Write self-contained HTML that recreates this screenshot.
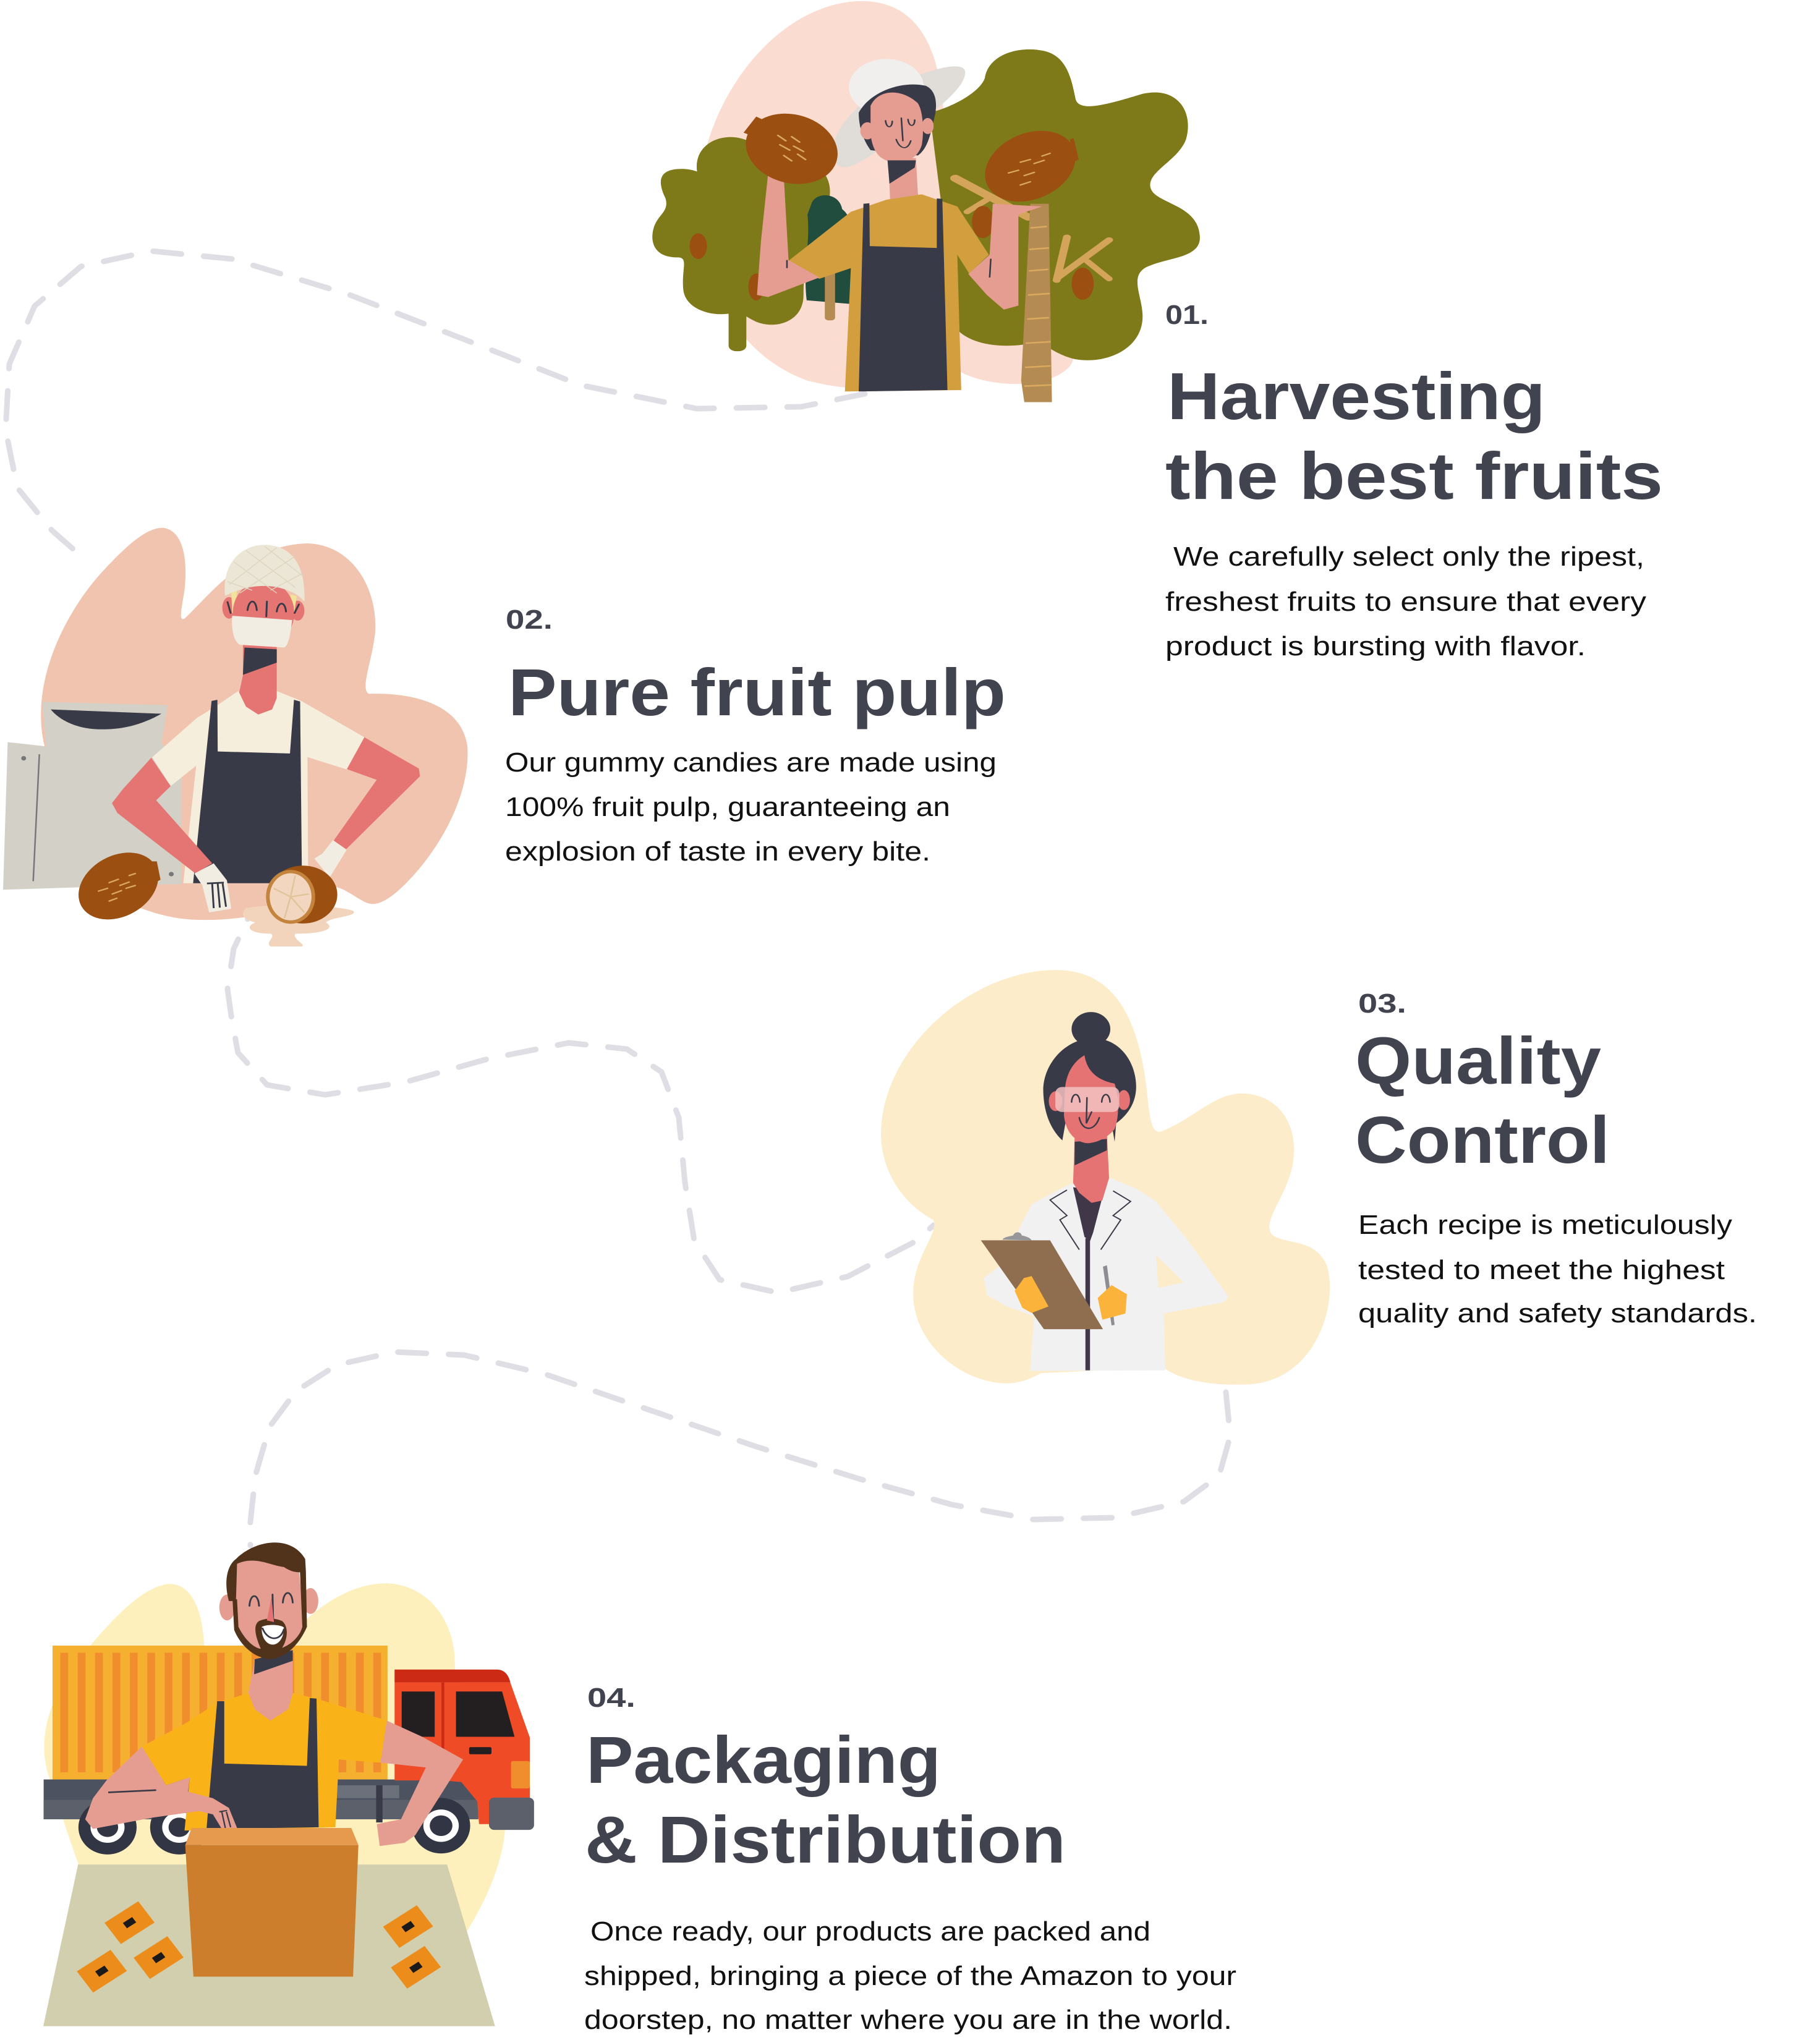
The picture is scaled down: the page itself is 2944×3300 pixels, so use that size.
<!DOCTYPE html>
<html>
<head>
<meta charset="utf-8">
<style>
  html,body{margin:0;padding:0;background:#ffffff;}
  svg{display:block;}
  .h{font-family:"Liberation Sans",Arial,sans-serif;font-weight:700;fill:#41434f;}
  .n{font-family:"Liberation Sans",Arial,sans-serif;font-weight:700;fill:#41434f;font-size:44px;}
  .b{font-family:"Liberation Sans",Arial,sans-serif;font-weight:400;fill:#111111;font-size:44px;}
</style>
</head>
<body>
<svg width="2944" height="3300" viewBox="0 0 2944 3300" xmlns="http://www.w3.org/2000/svg">
<rect width="2944" height="3300" fill="#ffffff"/>

<!-- dashed connectors -->
<g fill="none" stroke="#dedee4" stroke-width="9" stroke-linecap="round" stroke-linejoin="round" stroke-dasharray="46 36">
  <polyline points="1399,637 1296,658 1127,661 939,623 751,549 563,476 376,419 244,406 131,431 56,495 15,589 9,695 28,789 84,858 134,902"/>
  <polyline points="420,1445 398,1492 378,1535 368,1600 375,1650 385,1703 432,1755 526,1771 657,1750 789,1713 920,1687 1014,1697 1070,1734 1098,1808 1108,1913 1123,2007 1164,2070 1258,2091 1371,2065 1483,2007 1510,1982"/>
  <polyline points="1983,2252 1990,2323 1972,2387 1915,2429 1803,2455 1671,2458 1540,2434 1389,2392 1220,2339 1051,2281 882,2223 751,2192 638,2187 545,2208 479,2250 436,2308 413,2387 404,2471 405,2500"/>
</g>

<!-- ============ Illustration 1: farmer with trees ============ -->
<g transform="translate(1000,0) scale(0.6378,0.4337)">
  <path fill="#fbdcd0" d="M 480,1420 C 330,1340 210,1120 205,760 C 200,420 380,30 600,5 C 760,-10 815,180 825,420 L 840,900 C 900,1100 1000,1200 1100,1260 C 1180,1300 1170,1380 1080,1420 C 1000,1450 900,1420 860,1380 L 700,1440 C 600,1460 540,1440 480,1420 Z"/>
  <!-- left tree -->
  <path fill="#7f7a19" d="M 200,640 C 190,540 260,490 320,520 C 380,550 480,560 520,640 C 560,720 520,800 500,860 C 480,940 470,1000 470,1100 C 470,1200 400,1230 350,1200 C 320,1180 300,1150 280,1170 C 230,1180 170,1150 165,1080 C 160,1000 180,960 150,960 C 90,960 80,900 90,850 C 100,800 130,790 120,740 C 100,680 100,630 160,630 C 185,630 200,640 200,640 Z"/>
  <rect x="280" y="1130" width="45" height="180" rx="20" fill="#7f7a19"/>
  <ellipse cx="203" cy="918" rx="22" ry="48" fill="#9b4f10"/>
  <ellipse cx="350" cy="1070" rx="20" ry="50" fill="#9b4f10"/>
  <!-- small dark tree -->
  <path fill="#214d3f" d="M 490,760 C 500,715 560,715 568,780 C 585,800 592,830 582,850 L 600,1135 L 478,1120 C 468,1000 488,900 480,800 Z"/>
  <rect x="524" y="1000" width="26" height="195" rx="10" fill="#b38b53"/>
  <!-- right tree -->
  <path fill="#7f7a19" d="M 930,290 C 940,200 1020,170 1080,190 C 1140,210 1150,300 1160,370 C 1170,420 1240,390 1330,350 C 1420,320 1460,420 1440,520 C 1420,600 1340,640 1350,700 C 1360,760 1470,760 1475,880 C 1480,960 1400,960 1350,990 C 1290,1020 1330,1100 1330,1180 C 1330,1300 1240,1360 1160,1340 C 1100,1320 1080,1270 1050,1280 C 980,1300 900,1290 860,1230 C 820,1170 830,1080 840,1000 L 790,420 C 850,400 920,340 930,290 Z"/>
  <g stroke="#d3a45a" stroke-linecap="round" fill="none">
    <line x1="855" y1="665" x2="1040" y2="810" stroke-width="26"/>
    <line x1="885" y1="790" x2="935" y2="745" stroke-width="18"/>
    <line x1="1138" y1="885" x2="1112" y2="1045" stroke-width="20"/>
    <line x1="1245" y1="895" x2="1115" y2="1035" stroke-width="20"/>
    <line x1="1245" y1="1040" x2="1190" y2="975" stroke-width="18"/>
  </g>
  <polygon fill="#b38b53" points="1045,760 1092,760 1100,1500 1030,1500 1022,1420"/>
  <g stroke="#d9a95e" stroke-width="6" stroke-linecap="round">
    <line x1="1048" y1="850" x2="1085" y2="845"/><line x1="1045" y1="930" x2="1090" y2="925"/>
    <line x1="1044" y1="1010" x2="1088" y2="1005"/><line x1="1042" y1="1100" x2="1092" y2="1095"/>
    <line x1="1040" y1="1190" x2="1090" y2="1185"/><line x1="1036" y1="1280" x2="1094" y2="1275"/>
    <line x1="1034" y1="1370" x2="1094" y2="1365"/><line x1="1032" y1="1440" x2="1096" y2="1436"/>
  </g>
  <ellipse cx="925" cy="828" rx="28" ry="60" fill="#9b4f10"/>
  <ellipse cx="1178" cy="1058" rx="28" ry="60" fill="#9b4f10"/>
  <!-- farmer -->
  <path fill="#e0dcd8" d="M 560,620 C 520,560 560,420 680,330 C 780,260 880,220 880,270 C 880,330 800,420 720,500 C 640,580 590,640 560,620 Z"/>
  <ellipse cx="680" cy="325" rx="95" ry="105" fill="#f0efee"/>
  <path fill="#393a47" d="M 610,420 C 640,340 720,300 780,320 C 810,340 810,400 800,450 C 790,520 780,560 760,580 L 640,560 C 620,520 610,470 610,420 Z"/>
  <ellipse cx="632" cy="488" rx="18" ry="32" fill="#e59d91"/>
  <ellipse cx="785" cy="470" rx="15" ry="30" fill="#e59d91"/>
  <path fill="#e59d91" d="M 640,395 C 660,330 720,330 760,385 C 775,420 775,500 770,540 C 760,590 730,610 700,605 C 660,600 645,560 640,500 Z"/>
  <g stroke="#393a47" stroke-width="4" fill="none" stroke-linecap="round">
    <path d="M 678,450 C 680,480 695,480 695,452"/>
    <path d="M 735,445 C 737,475 752,475 752,447"/>
    <path d="M 718,440 L 722,525"/>
    <path d="M 705,520 C 715,560 735,560 742,525"/>
  </g>
  <polygon fill="#e59d91" points="685,590 755,590 760,720 765,760 740,800 715,800 690,760"/>
  <polygon fill="#393a47" points="683,598 755,598 752,625 688,685"/>
  <polygon fill="#d39e3d" points="430,975 590,790 680,745 770,725 860,770 940,950 890,1020 860,950 870,1455 575,1460 590,1000 510,1040"/>
  <polygon fill="#383a47" points="622,760 637,758 638,918 808,925 808,740 822,742 835,1455 610,1460"/>
  <polygon fill="#e59d91" points="380,650 420,660 432,970 510,1035 430,1080 380,1108 352,1100 362,900"/>
  <polygon fill="#e59d91" points="950,760 1075,770 1015,800 1015,1140 978,1155 935,1100 888,1022 942,950"/>
  <ellipse cx="440" cy="555" rx="112" ry="135" fill="#9b4f10" transform="rotate(-25 440 555)"/>
  <polygon fill="#9b4f10" points="318,495 350,435 365,445 345,510"/>
  <ellipse cx="1045" cy="620" rx="105" ry="140" fill="#9b4f10" transform="rotate(30 1045 620)"/>
  <polygon fill="#9b4f10" points="1145,520 1160,600 1168,595 1155,515"/>
  <g stroke="#d9a95e" stroke-width="5" stroke-linecap="round">
    <line x1="405" y1="505" x2="425" y2="525"/><line x1="440" y1="510" x2="460" y2="530"/>
    <line x1="410" y1="540" x2="435" y2="560"/><line x1="445" y1="545" x2="470" y2="565"/>
    <line x1="420" y1="580" x2="440" y2="600"/><line x1="455" y1="575" x2="475" y2="595"/>
    <line x1="1020" y1="605" x2="1045" y2="595"/><line x1="1055" y1="610" x2="1080" y2="598"/>
    <line x1="990" y1="645" x2="1015" y2="635"/><line x1="1030" y1="655" x2="1055" y2="643"/>
    <line x1="1020" y1="690" x2="1045" y2="678"/><line x1="1075" y1="582" x2="1095" y2="572"/>
  </g>
  <line x1="428" y1="970" x2="428" y2="1000" stroke="#393a47" stroke-width="4"/>
  <line x1="945" y1="965" x2="942" y2="1035" stroke="#393a47" stroke-width="4"/>
</g>

<!-- ============ Illustration 2: pulp worker ============ -->
<g transform="translate(0,840) scale(0.4974,0.4592)">
  <path fill="#f0c4ae" d="M 150,820 C 90,600 200,350 320,200 C 420,80 480,30 530,30 C 600,40 610,150 600,250 C 590,320 580,360 600,350 C 680,270 800,90 1000,85 C 1150,90 1230,250 1220,400 C 1210,500 1170,600 1200,615 C 1320,610 1500,640 1520,800 C 1530,950 1450,1130 1340,1260 C 1280,1330 1230,1370 1190,1350 C 1150,1330 1100,1280 1070,1300 C 950,1380 780,1420 620,1410 C 480,1400 350,1320 300,1280 L 150,820 Z"/>
  <path fill="#f2d3bb" d="M 800,1370 C 900,1350 1100,1360 1150,1380 C 1160,1400 1080,1400 1060,1420 C 1090,1440 1060,1460 960,1460 C 950,1480 1000,1500 980,1505 L 880,1505 C 860,1490 900,1470 880,1460 C 820,1460 790,1440 830,1420 C 790,1410 780,1390 800,1370 Z"/>
  <!-- machine -->
  <polygon fill="#d3d0c8" points="138,643 545,655 525,790 590,850 590,1285 10,1305 25,785 150,800"/>
  <path fill="#393a47" d="M 165,670 L 525,685 C 450,730 390,740 330,740 C 260,740 200,715 165,670 Z"/>
  <line x1="128" y1="828" x2="108" y2="1275" stroke="#77777a" stroke-width="5"/>
  <circle cx="77" cy="842" r="8" fill="#77777a"/>
  <circle cx="557" cy="1250" r="8" fill="#77777a"/>
  <!-- body -->
  <polygon fill="#f5eedc" points="495,838 640,700 700,660 775,605 795,650 840,688 880,660 900,605 980,640 1185,768 1130,882 1000,838 1002,1225 985,1282 596,1282 638,868 555,940"/>
  <polygon fill="#393a47" points="688,640 707,636 708,818 943,825 956,636 976,642 982,1282 628,1282"/>
  <polygon fill="#e57572" points="790,440 900,440 900,630 885,670 840,688 800,660 778,610 790,550"/>
  <polygon fill="#393a47" points="795,452 900,458 900,505 790,548"/>
  <ellipse cx="745" cy="312" rx="22" ry="38" fill="#e57572"/>
  <ellipse cx="968" cy="322" rx="22" ry="35" fill="#e57572"/>
  <path fill="#f3e39a" d="M 752,250 L 770,250 L 768,340 L 755,330 Z M 945,265 L 965,270 L 955,345 L 945,340 Z"/>
  <ellipse cx="857" cy="330" rx="100" ry="115" fill="#e57572"/>
  <path fill="#ece6d6" d="M 732,270 C 720,150 790,90 860,90 C 940,90 995,150 990,290 C 960,250 900,235 860,235 C 800,235 760,255 732,270 Z"/>
  <g stroke="#ddd5bf" stroke-width="3" fill="none">
    <path d="M 760,150 L 900,260 M 800,110 L 960,240 M 860,95 L 985,200 M 740,220 L 820,250 M 960,130 L 780,260 M 900,100 L 745,230 M 985,190 L 880,250"/>
  </g>
  <path fill="#f2ede3" d="M 755,340 L 950,355 C 945,400 940,440 925,452 L 780,442 C 760,430 752,390 755,340 Z"/>
  <g stroke="#393a47" stroke-width="6" fill="none" stroke-linecap="round">
    <path d="M 805,320 C 810,280 832,280 835,320"/>
    <path d="M 900,325 C 905,288 927,288 930,325"/>
    <path d="M 868,290 L 866,342"/>
    <path d="M 740,292 L 750,330"/>
    <path d="M 972,300 L 958,330"/>
  </g>
  <polygon fill="#e57572" points="492,840 555,940 508,990 690,1212 636,1248 382,1035 364,1000 400,950"/>
  <polygon fill="#e57572" points="1185,768 1362,878 1366,905 1126,1162 1085,1132 1225,918 1128,880"/>
  <polygon fill="#f2ede3" points="632,1248 695,1212 738,1272 752,1372 680,1385 658,1290"/>
  <g stroke="#393a47" stroke-width="6">
    <line x1="673" y1="1283" x2="728" y2="1280"/>
    <line x1="690" y1="1283" x2="695" y2="1370"/>
    <line x1="708" y1="1283" x2="715" y2="1368"/>
    <line x1="724" y1="1283" x2="735" y2="1365"/>
  </g>
  <polygon fill="#f2ede3" points="1083,1130 1127,1165 1072,1262 1022,1195 1048,1178"/>
  <ellipse cx="385" cy="1292" rx="140" ry="105" fill="#9b4f10" transform="rotate(-35 385 1292)"/>
  <polygon fill="#9b4f10" points="490,1205 510,1205 522,1270 500,1282"/>
  <g stroke="#d9a95e" stroke-width="5" stroke-linecap="round">
    <line x1="355" y1="1280" x2="385" y2="1268"/><line x1="390" y1="1290" x2="420" y2="1278"/>
    <line x1="320" y1="1310" x2="350" y2="1300"/><line x1="365" y1="1320" x2="395" y2="1308"/>
    <line x1="355" y1="1345" x2="380" y2="1335"/><line x1="410" y1="1300" x2="440" y2="1290"/>
    <line x1="420" y1="1255" x2="440" y2="1248"/>
  </g>
  <ellipse cx="985" cy="1322" rx="112" ry="102" fill="#9b4f10"/>
  <ellipse cx="945" cy="1330" rx="80" ry="95" fill="#c4843d"/>
  <ellipse cx="945" cy="1330" rx="68" ry="83" fill="#f2d6c0"/>
  <g stroke="#e0c49a" stroke-width="5" fill="none">
    <path d="M 945,1330 L 960,1255 M 945,1330 L 1005,1320 M 945,1330 L 990,1385 M 945,1330 L 925,1405 M 945,1330 L 890,1300"/>
  </g>
</g>

<!-- ============ Illustration 3: quality control ============ -->
<g transform="translate(1420,1560) scale(0.4974,0.4592)">
  <path fill="#fdecca" d="M 180,900 C 60,830 10,700 10,600 C 10,300 300,20 580,20 C 800,20 860,250 880,500 C 890,580 900,600 930,585 C 1030,540 1100,450 1190,455 C 1300,460 1370,560 1350,700 C 1330,820 1250,900 1280,950 C 1320,990 1420,960 1460,1060 C 1500,1200 1420,1480 1190,1480 C 1050,1485 960,1450 930,1420 L 530,1440 C 480,1470 440,1480 400,1475 C 250,1460 110,1320 115,1150 C 120,1020 200,950 180,900 Z"/>
  <polygon fill="#f1f1f1" points="500,845 560,810 632,770 700,840 755,752 840,790 900,830 1000,960 1140,1170 1125,1190 930,1230 935,1430 495,1432 508,1240 420,1205 355,1165 345,1105 398,1060 460,930"/>
  <polygon fill="#fdecca" points="905,1025 995,1120 912,1140"/>
  <polygon fill="#403848" points="635,785 735,800 700,945 690,975 672,960"/>
  <rect x="675" y="965" width="15" height="465" fill="#403848"/>
  <polygon fill="#e57373" points="640,610 745,600 752,752 730,832 695,840 655,805 635,770"/>
  <polygon fill="#393a47" points="640,625 745,615 745,655 640,708"/>
  <g stroke="#393a47" stroke-width="4" fill="none">
    <path d="M 615,795 L 560,830 L 615,885 L 592,900 L 655,1005"/>
    <path d="M 765,798 L 822,835 L 765,885 L 790,900 L 725,1005"/>
  </g>
  <ellipse cx="693" cy="228" rx="63" ry="60" fill="#393a47"/>
  <path fill="#393a47" d="M 600,620 C 560,580 540,520 538,450 C 535,360 600,270 690,260 C 790,255 840,350 840,430 C 840,500 800,540 775,560 L 770,625 L 760,560 L 610,560 Z"/>
  <ellipse cx="578" cy="482" rx="22" ry="35" fill="#e57373"/>
  <ellipse cx="800" cy="478" rx="20" ry="35" fill="#e57373"/>
  <path fill="#e57373" d="M 608,450 C 610,380 640,340 672,320 C 680,380 720,410 770,420 C 785,470 785,540 770,580 C 740,620 700,630 680,630 C 640,625 610,590 605,530 Z"/>
  <rect x="577" y="432" width="208" height="88" rx="22" fill="#f3c2c2" opacity="0.85"/>
  <g stroke="#393a47" stroke-width="5" fill="none" stroke-linecap="round">
    <path d="M 630,485 C 632,450 655,450 657,485"/>
    <path d="M 728,485 C 730,450 753,450 755,485"/>
    <path d="M 680,470 L 678,560 L 695,520"/>
    <path d="M 655,540 C 665,590 705,590 720,540"/>
  </g>
  <polygon fill="#8e6e4f" points="335,972 560,972 732,1285 540,1285"/>
  <path fill="#97979b" d="M 405,970 C 410,960 430,958 440,955 C 445,940 465,940 468,955 C 480,958 495,962 500,972 Z"/>
  <polygon fill="#fcb33b" points="445,1150 475,1105 500,1098 555,1205 500,1228 470,1210"/>
  <polygon fill="#8e8e92" points="732,1065 745,1060 770,1270 760,1272"/>
  <polygon fill="#fcb33b" points="715,1175 760,1130 810,1162 805,1230 730,1252"/>
</g>

<!-- ============ Illustration 4: packaging & distribution ============ -->
<g transform="translate(0,2480) scale(0.574,0.523)">
  <path fill="#fdf0bc" d="M 140,760 C 100,640 140,500 230,380 C 320,260 400,170 470,158 C 540,150 570,240 575,340 L 575,400 L 860,270 C 930,200 1010,155 1090,155 C 1200,160 1280,260 1282,400 L 1282,430 C 1380,560 1440,800 1420,950 C 1400,1080 1340,1190 1300,1260 L 1250,1300 L 250,1300 L 220,1020 C 180,900 160,820 140,760 Z"/>
  <rect x="148" y="348" width="944" height="414" fill="#f6b02f"/>
  <line x1="170" y1="555" x2="1075" y2="555" stroke="#f08e2e" stroke-width="370" stroke-dasharray="22 27"/>
  <rect x="123" y="762" width="1225" height="123" fill="#4d5260"/>
  <rect x="123" y="825" width="1225" height="60" fill="#5b606b"/>
  <rect x="940" y="780" width="185" height="40" fill="#6b707b"/>
  <rect x="1060" y="780" width="18" height="115" fill="#393a47"/>
  <path fill="#cc2a14" d="M 1112,422 L 1400,422 C 1425,422 1435,445 1438,462 L 1112,462 Z"/>
  <polygon fill="#f04b27" points="1112,462 1438,462 1493,632 1493,900 1350,900 1345,830 1300,770 1250,765 1112,765"/>
  <rect x="1132" y="490" width="93" height="140" fill="#231f20"/>
  <polygon fill="#231f20" points="1285,490 1415,490 1450,630 1285,630"/>
  <rect x="1244" y="462" width="8" height="240" fill="#cc2a14"/>
  <rect x="1322" y="662" width="63" height="22" rx="4" fill="#231f20"/>
  <rect x="1440" y="705" width="53" height="85" rx="6" fill="#f08e2e"/>
  <rect x="1378" y="818" width="127" height="100" rx="15" fill="#5b606b"/>
  <g>
    <ellipse cx="303" cy="910" rx="82" ry="84" fill="#323644"/>
    <ellipse cx="303" cy="910" rx="48" ry="48" fill="#ffffff"/>
    <ellipse cx="303" cy="910" rx="30" ry="30" fill="#323644"/>
    <ellipse cx="505" cy="910" rx="82" ry="84" fill="#323644"/>
    <ellipse cx="505" cy="910" rx="48" ry="48" fill="#ffffff"/>
    <ellipse cx="505" cy="910" rx="30" ry="30" fill="#323644"/>
    <ellipse cx="1243" cy="905" rx="82" ry="86" fill="#323644"/>
    <ellipse cx="1243" cy="905" rx="50" ry="50" fill="#ffffff"/>
    <ellipse cx="1243" cy="905" rx="32" ry="32" fill="#323644"/>
  </g>
  <!-- man -->
  <polygon fill="#fab219" points="400,660 520,590 612,525 700,495 760,580 825,495 892,512 1090,580 1072,710 955,700 945,910 520,920 535,755 468,780"/>
  <polygon fill="#383a47" points="612,520 632,520 632,713 865,720 873,510 892,512 898,910 582,915"/>
  <polygon fill="#e59d91" points="718,390 825,360 825,495 812,545 762,580 718,545 700,495"/>
  <polygon fill="#383a47" points="718,390 825,362 825,395 716,437"/>
  <ellipse cx="640" cy="230" rx="22" ry="40" fill="#e59d91"/>
  <ellipse cx="875" cy="210" rx="22" ry="40" fill="#e59d91"/>
  <path fill="#e59d91" d="M 665,95 C 700,70 790,60 840,90 L 860,300 C 830,350 800,380 760,380 C 720,380 680,340 665,300 Z"/>
  <path fill="#51331c" d="M 645,210 C 630,150 640,100 665,80 C 720,20 820,5 860,80 L 862,118 C 840,125 820,120 800,105 C 760,100 720,70 668,95 L 665,210 Z"/>
  <path fill="#51331c" d="M 845,110 L 862,118 L 865,290 C 845,340 810,385 760,390 C 710,385 675,340 660,300 L 655,200 L 668,205 L 672,290 C 690,330 715,355 735,358 C 720,320 712,285 730,272 C 750,262 775,262 795,272 C 815,290 810,330 795,355 C 820,345 845,320 852,290 Z"/>
  <path fill="#ffffff" d="M 738,290 C 750,282 790,282 800,292 C 800,325 785,345 768,345 C 750,345 735,320 738,290 Z"/>
  <g stroke="#393a47" stroke-width="5" fill="none" stroke-linecap="round">
    <path d="M 703,225 C 705,185 728,185 730,225"/>
    <path d="M 797,215 C 800,175 822,175 825,215"/>
    <path d="M 768,190 L 770,280"/>
    <path d="M 740,295 C 755,335 790,335 800,298"/>
  </g>
  <polygon fill="#e57373" points="765,200 772,275 752,270"/>
  <polygon fill="#e59d91" points="400,660 468,780 535,755 530,800 600,820 645,850 668,912 625,915 600,870 560,860 430,880 262,915 240,885 262,820 300,765"/>
  <polygon fill="#e59d91" points="1090,580 1190,630 1305,700 1170,935 1140,958 1070,968 1062,900 1130,885 1200,725 1072,710"/>
  <line x1="305" y1="802" x2="440" y2="795" stroke="#393a47" stroke-width="5"/>
  <g stroke="#393a47" stroke-width="4"><line x1="618" y1="862" x2="640" y2="858"/><line x1="625" y1="862" x2="635" y2="912"/><line x1="638" y1="862" x2="650" y2="910"/></g>
  <!-- table & box -->
  <polygon fill="#d1cfad" points="220,1025 1260,1025 1395,1525 122,1525"/>
  <polygon fill="#cc7e2d" points="522,965 1010,965 995,1372 545,1372"/>
  <polygon fill="#e59a4e" points="540,912 990,912 1010,965 522,965"/>
  <g fill="#ec8c1a">
    <g transform="translate(365,1205) rotate(-35)"><rect x="-58" y="-40" width="116" height="80"/><rect x="-16" y="-10" width="32" height="20" fill="#1a1a1a"/></g>
    <g transform="translate(447,1313) rotate(-35)"><rect x="-58" y="-40" width="116" height="80"/><rect x="-16" y="-10" width="32" height="20" fill="#1a1a1a"/></g>
    <g transform="translate(287,1355) rotate(-35)"><rect x="-58" y="-40" width="116" height="80"/><rect x="-16" y="-10" width="32" height="20" fill="#1a1a1a"/></g>
    <g transform="translate(1150,1217) rotate(-35)"><rect x="-58" y="-40" width="116" height="80"/><rect x="-16" y="-10" width="32" height="20" fill="#1a1a1a"/></g>
    <g transform="translate(1172,1343) rotate(-35)"><rect x="-58" y="-40" width="116" height="80"/><rect x="-16" y="-10" width="32" height="20" fill="#1a1a1a"/></g>
  </g>
</g>

<!-- ============ Text ============ -->
<!-- Block 1 -->
<text class="n" x="1885" y="524" textLength="70" lengthAdjust="spacingAndGlyphs">01.</text>
<text class="h" x="1888" y="678" font-size="108" textLength="612" lengthAdjust="spacingAndGlyphs">Harvesting</text>
<text class="h" x="1885" y="807" font-size="108" textLength="805" lengthAdjust="spacingAndGlyphs">the best fruits</text>
<text class="b" x="1898" y="915" textLength="762" lengthAdjust="spacingAndGlyphs">We carefully select only the ripest,</text>
<text class="b" x="1885" y="988" textLength="778" lengthAdjust="spacingAndGlyphs">freshest fruits to ensure that every</text>
<text class="b" x="1885" y="1060" textLength="680" lengthAdjust="spacingAndGlyphs">product is bursting with flavor.</text>

<!-- Block 2 -->
<text class="n" x="818" y="1017" textLength="76" lengthAdjust="spacingAndGlyphs">02.</text>
<text class="h" x="822" y="1157" font-size="108" textLength="805" lengthAdjust="spacingAndGlyphs">Pure fruit pulp</text>
<text class="b" x="817" y="1248" textLength="795" lengthAdjust="spacingAndGlyphs">Our gummy candies are made using</text>
<text class="b" x="817" y="1320" textLength="720" lengthAdjust="spacingAndGlyphs">100% fruit pulp, guaranteeing an</text>
<text class="b" x="817" y="1392" textLength="688" lengthAdjust="spacingAndGlyphs">explosion of taste in every bite.</text>

<!-- Block 3 -->
<text class="n" x="2197" y="1638" textLength="78" lengthAdjust="spacingAndGlyphs">03.</text>
<text class="h" x="2192" y="1753" font-size="108" textLength="398" lengthAdjust="spacingAndGlyphs">Quality</text>
<text class="h" x="2192" y="1881" font-size="108" textLength="412" lengthAdjust="spacingAndGlyphs">Control</text>
<text class="b" x="2197" y="1996" textLength="605" lengthAdjust="spacingAndGlyphs">Each recipe is meticulously</text>
<text class="b" x="2197" y="2069" textLength="593" lengthAdjust="spacingAndGlyphs">tested to meet the highest</text>
<text class="b" x="2197" y="2139" textLength="645" lengthAdjust="spacingAndGlyphs">quality and safety standards.</text>

<!-- Block 4 -->
<text class="n" x="950" y="2761" textLength="78" lengthAdjust="spacingAndGlyphs">04.</text>
<text class="h" x="948" y="2884" font-size="108" textLength="574" lengthAdjust="spacingAndGlyphs">Packaging</text>
<text class="h" x="946" y="3013" font-size="108" textLength="778" lengthAdjust="spacingAndGlyphs">&amp; Distribution</text>
<text class="b" x="955" y="3139" textLength="906" lengthAdjust="spacingAndGlyphs">Once ready, our products are packed and</text>
<text class="b" x="945" y="3211" textLength="1055" lengthAdjust="spacingAndGlyphs">shipped, bringing a piece of the Amazon to your</text>
<text class="b" x="945" y="3282" textLength="1048" lengthAdjust="spacingAndGlyphs">doorstep, no matter where you are in the world.</text>
</svg>
</body>
</html>
